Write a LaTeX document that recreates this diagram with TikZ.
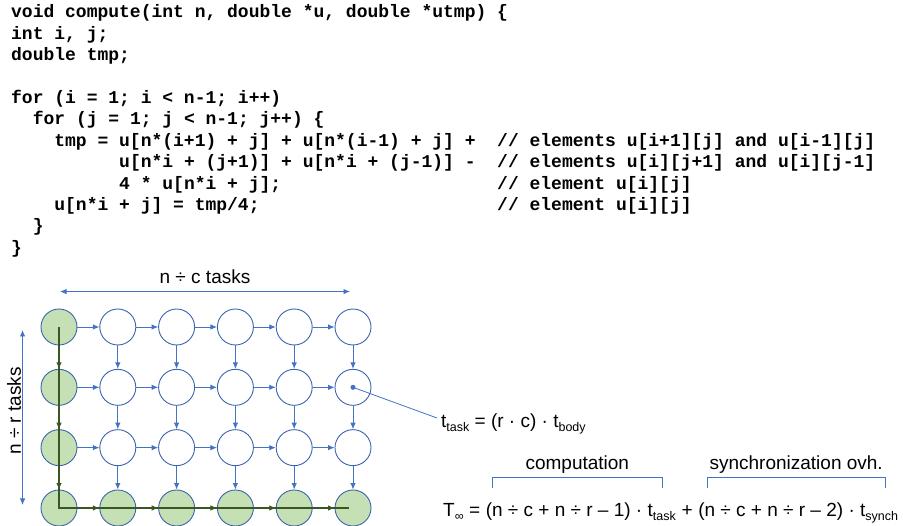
\documentclass[tikz,border=0pt]{standalone}
\usepackage{fontspec}
\setmainfont{Liberation Sans}
\setmonofont{Liberation Mono}
\usepackage{tikz}
\usetikzlibrary{positioning,arrows.meta,calc}
\definecolor{linkBlue}{HTML}{4472C4}
\definecolor{ringBlue}{HTML}{3B64AD}
\definecolor{taskGreen}{HTML}{C5E0B4}
\definecolor{pathGreen}{HTML}{385723}
\newcommand{\lowidx}[1]{\raisebox{-3.5pt}{\fontsize{12.5}{12.5}\selectfont #1}}

\begin{document}
\begin{tikzpicture}[x=1pt,y=-1pt,font=\fontsize{19}{22}\selectfont,
    code/.style={anchor=base west,inner sep=0pt,font=\fontsize{18}{21}\selectfont\ttfamily\bfseries},
    task/.style={circle,draw=ringBlue,line width=0.9pt,minimum size=36pt,inner sep=0pt},
    done/.style={task,fill=taskGreen},
    dep/.style={draw=linkBlue,line width=0.9pt,-{Latex[length=6.5pt,width=5.5pt]}},
    crit/.style={dep,draw=pathGreen},
    span/.style={draw=linkBlue,line width=0.9pt,{Latex[length=6.5pt,width=5.5pt]}-{Latex[length=6.5pt,width=5.5pt]}},
    brace/.style={draw=linkBlue,line width=0.8pt},
    eq/.style={anchor=base west,inner sep=0pt}
  ]
  \useasboundingbox (0,0) rectangle (903,526);

  % source code
  \node[code] (l1) at (11,18) {void compute(int n, double *u, double *utmp) \{};
  \node[code] (l2) at (11,39.4) {int i, j;};
  \node[code] (l3) at (11,60.8) {double tmp;};
  \node[code] (l4) at (11,103.6) {for (i = 1; i < n-1; i++)};
  \node[code] (l5) at (32.6,125) {for (j = 1; j < n-1; j++) \{};
  \node[code] (l6) at (54.2,146.4) {tmp = u[n*(i+1) + j] + u[n*(i-1) + j] +};
  \node[code] (l7) at (119,167.8) {u[n*i + (j+1)] + u[n*i + (j-1)] -};
  \node[code] (l8) at (119,189.2) {4 * u[n*i + j];};
  \node[code] (l9) at (54.2,210.6) {u[n*i + j] = tmp/4;};
  \node[code] (l10) at (32.6,232) {\}};
  \node[code] (l11) at (11,253.4) {\}};
  % comments, column 45
  \node[code] (c6) at (497,146.4) {// elements u[i+1][j] and u[i-1][j]};
  \node[code] (c7) at (497,167.8) {// elements u[i][j+1] and u[i][j-1]};
  \node[code] (c8) at (497,189.2) {// element u[i][j]};
  \node[code] (c9) at (497,210.6) {// element u[i][j]};

  % task grid
  \foreach \r in {1,...,4}
    \foreach \c in {1,...,6} {
      \ifnum\c=1 \def\kind{done}\else\ifnum\r=4 \def\kind{done}\else\def\kind{task}\fi\fi
      \node[\kind] (t-\r-\c) at ({59+(\c-1)*58.8},{327+(\r-1)*60.33}) {};
    }

  \draw[pathGreen,line width=2.4pt] (t-1-1.center) -- (t-4-1.center) -- ($(t-4-6.center)+(-4,0)$);

  \foreach \r in {1,2,3}
    \foreach \a/\b in {1/2,2/3,3/4,4/5,5/6}
      \draw[dep] (t-\r-\a) -- (t-\r-\b);
  \foreach \c in {2,...,6}
    \foreach \a/\b in {1/2,2/3,3/4}
      \draw[dep] (t-\a-\c) -- (t-\b-\c);
  \foreach \a/\b in {1/2,2/3,3/4}
    \draw[crit] (t-\a-1) -- (t-\b-1);
  \foreach \a/\b in {1/2,2/3,3/4,4/5,5/6}
    \draw[crit] (t-4-\a) -- (t-4-\b);

  % extents
  \coordinate (spanL) at ($(t-1-1.north)+(1,-17)$);
  \coordinate (spanR) at ($(t-1-6.north)+(-3,-17)$);
  \draw[span] (spanL) -- (spanR) node[midway,yshift=15pt] (ctasks) {n ÷ c tasks};
  \coordinate (spanT) at ($(t-1-1.west)+(-18,3)$);
  \coordinate (spanB) at ($(t-4-1.west)+(-18,-3)$);
  \draw[span] (spanT) -- (spanB);
  \node[rotate=90] (rtasks) at (14,411) {n ÷ r tasks};

  % task cost
  \node[circle,fill=linkBlue,inner sep=0pt,minimum size=5pt] (hook) at (t-2-6.center) {};
  \node[anchor=west,inner sep=0pt] (ttask) at (441,424) {t\lowidx{task} = (r · c) · t\lowidx{body}};
  \coordinate (tip) at ($(ttask.west)+(-4,-6)$);
  \draw[brace] (hook.center) -- (tip);

  % span formula
  \node[eq] (f0) at (443,517) {T\lowidx{∞} =};
  \node[eq] (f1) at ($(f0.base east)+(5.3,0)$) {(n ÷ c + n ÷ r – 1) · t\lowidx{task}};
  \node[eq] (f2) at ($(f1.base east)+(5.3,0)$) {+};
  \node[eq] (f3) at ($(f2.base east)+(5.3,0)$) {(n ÷ c + n ÷ r – 2) · t\lowidx{synch}};

  \coordinate (compL) at ($(f1.base west)+(7,-29)$);
  \coordinate (compR) at ($(f1.base east)+(-14,-29)$);
  \draw[brace] (compL) -- ++(0,-11) -| (compR);
  \node (comp) at ($(compL)!0.5!(compR)+(0,-23)$) {computation};
  \coordinate (syncL) at ($(f3.base west)+(9,-29)$);
  \coordinate (syncR) at ($(f3.base east)+(-13,-29)$);
  \draw[brace] (syncL) -- ++(0,-11) -| (syncR);
  \node (sync) at ($(syncL)!0.5!(syncR)+(0,-23)$) {synchronization ovh.};
\end{tikzpicture}
\end{document}
